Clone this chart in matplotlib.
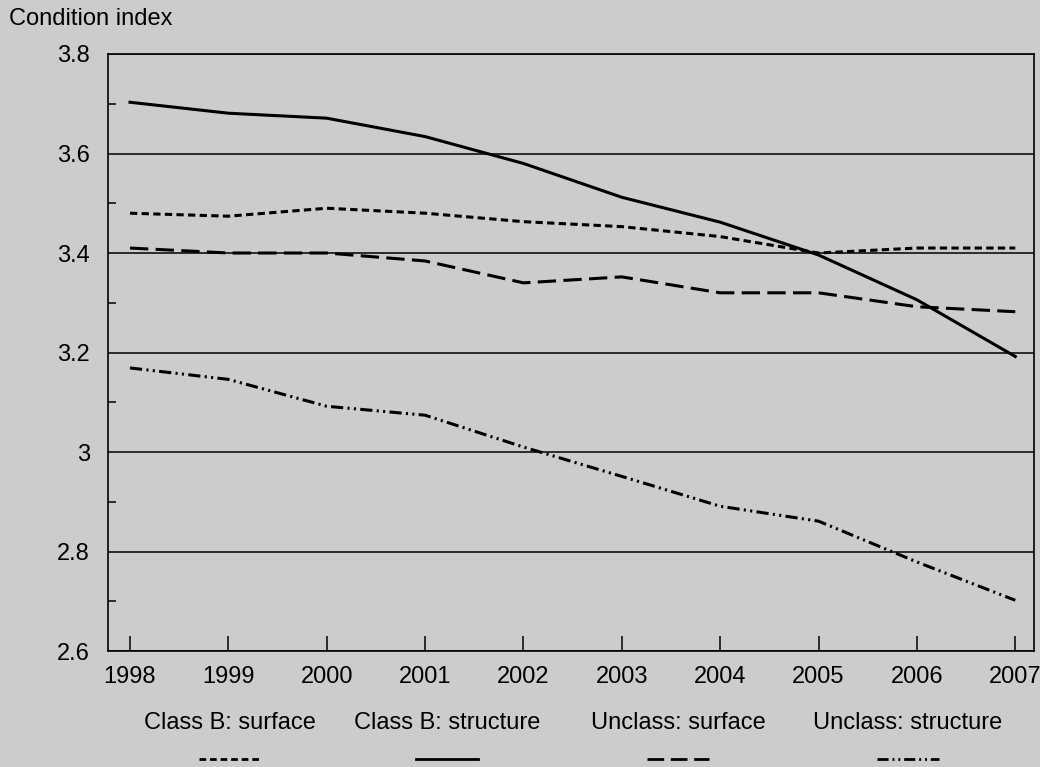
"""Road condition index by class, 1998-2007."""
import matplotlib
matplotlib.use("Agg")
import matplotlib.pyplot as plt
from matplotlib.lines import Line2D
from matplotlib.ticker import FuncFormatter, MultipleLocator

plt.rcParams["font.family"] = ["Liberation Sans", "DejaVu Sans"]

years = [1998, 1999, 2000, 2001, 2002, 2003, 2004, 2005, 2006, 2007]
class_b_surface = [3.48, 3.474, 3.49, 3.48, 3.463, 3.453, 3.433, 3.40, 3.41, 3.41]
class_b_structure = [3.703, 3.681, 3.671, 3.634, 3.58, 3.512, 3.462, 3.396, 3.306, 3.192]
unclass_surface = [3.41, 3.40, 3.40, 3.384, 3.34, 3.352, 3.32, 3.32, 3.292, 3.282]
unclass_structure = [3.169, 3.146, 3.092, 3.074, 3.01, 2.951, 2.891, 2.861, 2.779, 2.702]
labels = ["Class B: surface", "Class B: structure", "Unclass: surface", "Unclass: structure"]

BG = "#cccccc"
FS = 17
styles = [
    (0, (2.4, 1.4)),
    "solid",
    (0, (6, 2.4)),
    (0, (4, 1.4, 0.7, 1.4, 0.7, 1.4)),
]

fig = plt.figure(figsize=(10.4, 7.67), dpi=100, facecolor=BG)
ax = fig.add_axes([0.1038, 0.1512, 0.8904, 0.7784], facecolor=BG)

series = [class_b_surface, class_b_structure, unclass_surface, unclass_structure]
for vals, ls in zip(series, styles):
    ax.plot(years, vals, color="black", lw=2.2, linestyle=ls, zorder=3)

ax.set_xlim(1997.776, 2007.19)
ax.set_ylim(2.6, 3.8)
ax.set_xticks(years)
ax.yaxis.set_major_locator(MultipleLocator(0.2))
ax.yaxis.set_minor_locator(MultipleLocator(0.1))
ax.yaxis.set_major_formatter(FuncFormatter(lambda v, p: f"{v:g}"))
ax.grid(axis="y", which="major", color="black", lw=1.1, zorder=1)

ax.tick_params(axis="x", direction="in", length=11, width=1.1, pad=11, labelsize=FS)
ax.tick_params(axis="y", which="major", direction="in", length=0, pad=13, labelsize=FS)
ax.tick_params(axis="y", which="minor", direction="in", length=6, width=1.1)
for s in ax.spines.values():
    s.set_linewidth(1.2)
    s.set_color("black")

fig.text(0.009, 1 - 25 / 767, "Condition index", fontsize=FS, va="baseline", ha="left")

# legend: label above a short line sample
centers = [0.221, 0.430, 0.652, 0.873]
for cx, lab, ls in zip(centers, labels, styles):
    fig.text(cx, 1 - 723 / 767, lab, fontsize=FS, ha="center", va="center")
    fig.add_artist(Line2D([cx - 0.030, cx + 0.030], [1 - 759 / 767] * 2,
                          transform=fig.transFigure, color="black", lw=2.0, linestyle=ls))

fig.savefig("out.png", dpi=100, facecolor=BG)
